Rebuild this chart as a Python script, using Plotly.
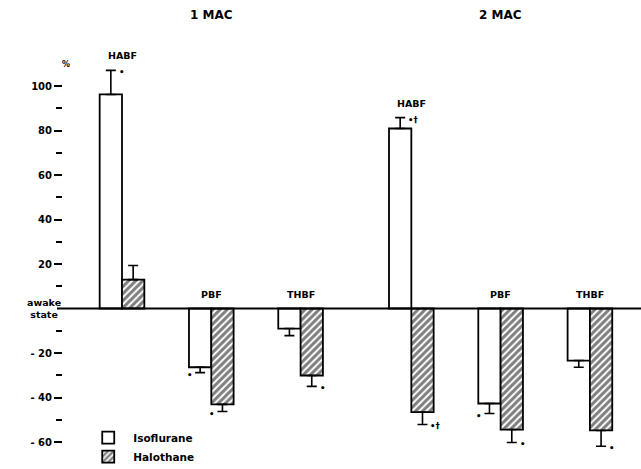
import plotly.graph_objects as go

# ---- data ----
measures = ["HABF", "PBF", "THBF"]
doses = ["1 MAC", "2 MAC"]
iso_1mac = [96.2, -26.4, -9.0]
iso_1mac_err = [10.8, 2.4, 3.2]
halo_1mac = [13.0, -43.1, -30.1]
halo_1mac_err = [6.3, 3.2, 4.9]
iso_2mac = [80.9, -42.7, -23.4]
iso_2mac_err = [4.9, 4.5, 3.0]
halo_2mac = [-46.6, -54.4, -54.8]
halo_2mac_err = [5.5, 5.8, 7.1]
sig_iso_1mac = ["•", "•", ""]
sig_halo_1mac = ["", "•", "•"]
sig_iso_2mac = ["•†", "•", ""]
sig_halo_2mac = ["•†", "•", "•"]
y_tickvals = [100, 80, 60, 40, 20, -20, -40, -60]
y_ticktext = ["100", "80", "60", "40", "20", "- 20", "- 40", "- 60"]
y_minor = [90, 70, 50, 30, 10, -10, -30, -50]

# ---- layout helpers ----
FONT = "DejaVu Sans"
DOSE_OFFSET = 3.24
BW = 0.25
pos = [d * DOSE_OFFSET + g for d in range(len(doses)) for g in range(len(measures))]

iso = iso_1mac + iso_2mac
iso_err = iso_1mac_err + iso_2mac_err
halo = halo_1mac + halo_2mac
halo_err = halo_1mac_err + halo_2mac_err
sig_iso = sig_iso_1mac + sig_iso_2mac
sig_halo = sig_halo_1mac + sig_halo_2mac
# which significance marks sit left of their error bar (style)
left_marks = {("iso", 1), ("halo", 1), ("iso", 4)}


def err_arrays(vals, errs):
    up = [e if v >= 0 else 0 for v, e in zip(vals, errs)]
    dn = [e if v < 0 else 0 for v, e in zip(vals, errs)]
    return up, dn


fig = go.Figure()
iu, idn = err_arrays(iso, iso_err)
hu, hdn = err_arrays(halo, halo_err)
fig.add_trace(go.Bar(
    x=pos, y=iso, name="<b>Isoflurane</b>", offset=-BW, width=BW,
    marker=dict(color="white", line=dict(color="black", width=1.8)),
    error_y=dict(type="data", symmetric=False, array=iu, arrayminus=idn,
                 color="black", thickness=1.6, width=5),
))
fig.add_trace(go.Bar(
    x=pos, y=halo, name="<b>Halothane</b>", offset=0, width=BW,
    marker=dict(color="white", line=dict(color="black", width=1.8),
                pattern=dict(shape="/", size=5, solidity=0.6,
                             fgcolor="black", bgcolor="white")),
    error_y=dict(type="data", symmetric=False, array=hu, arrayminus=hdn,
                 color="black", thickness=1.6, width=5),
))

ann = []
# dose titles
for d, name in enumerate(doses):
    ann.append(dict(x=d * DOSE_OFFSET + 1, y=1, xref="x", yref="paper",
                    text="<b>%s</b>" % name, showarrow=False, yanchor="top",
                    yshift=-6, font=dict(size=12, family=FONT)))
# measure labels
for i, p in enumerate(pos):
    m = measures[i % len(measures)]
    tops = [0]
    for v, e in ((iso[i], iso_err[i]), (halo[i], halo_err[i])):
        if v > 0:
            tops.append(v + e)
    ann.append(dict(x=p, y=max(tops), text="<b>%s</b>" % m, showarrow=False,
                    yanchor="bottom", yshift=7, font=dict(size=9.5, family=FONT)))
# significance marks
for kind, vals, errs, sigs, sgn in (("iso", iso, iso_err, sig_iso, -1),
                                    ("halo", halo, halo_err, sig_halo, 1)):
    for i, p in enumerate(pos):
        if not sigs[i]:
            continue
        v, e = vals[i], errs[i]
        yend = v + e if v >= 0 else v - e
        left = (kind, i) in left_marks
        ann.append(dict(x=p + sgn * BW / 2, y=yend, text="<b>%s</b>" % sigs[i],
                        showarrow=False, xanchor="right" if left else "left",
                        xshift=-6 if left else 6, yshift=-2,
                        font=dict(size=8.5, family=FONT)))
# axis captions
ann.append(dict(x=-0.065, y=0, xref="paper", yref="y", text="<b>awake<br>state</b>",
                showarrow=False, font=dict(size=9.5, family=FONT)))
ann.append(dict(x=-0.005, y=110, xref="paper", yref="y", text="<b>%</b>",
                showarrow=False, yshift=-1, font=dict(size=8, family=FONT)))

fig.update_layout(
    width=641, height=469,
    margin=dict(l=63, r=0, t=0, b=0, autoexpand=False),
    paper_bgcolor="white", plot_bgcolor="white",
    barmode="overlay",
    font=dict(family=FONT, color="black"),
    annotations=ann,
    shapes=[dict(type="line", xref="paper", yref="y", x0=-0.0104, x1=1,
                 y0=0, y1=0, line=dict(color="black", width=2))],
    showlegend=True,
    legend=dict(x=0.035, y=0.098, xanchor="left", yanchor="top",
                font=dict(size=10.5, family=FONT), bgcolor="rgba(0,0,0,0)",
                itemwidth=40, tracegroupgap=0, traceorder="normal"),
    xaxis=dict(range=[-0.6607, 5.812], showgrid=False, zeroline=False,
               showticklabels=False, ticks="", showline=False),
    yaxis=dict(range=[-72.13, 138.65], showgrid=False, zeroline=False,
               showline=False, tickmode="array", tickvals=y_tickvals,
               ticktext=["<b>%s</b>" % t for t in y_ticktext],
               ticks="outside", ticklen=8, tickwidth=2, tickcolor="black",
               tickfont=dict(size=10, family=FONT),
               minor=dict(tickmode="array", tickvals=y_minor, ticks="outside",
                          ticklen=6, tickwidth=2, tickcolor="black")),
)

fig.write_html("out.html", config={"displayModeBar": False},
               post_script="document.body.style.margin='0';"
                           "document.body.style.overflow='hidden';")
